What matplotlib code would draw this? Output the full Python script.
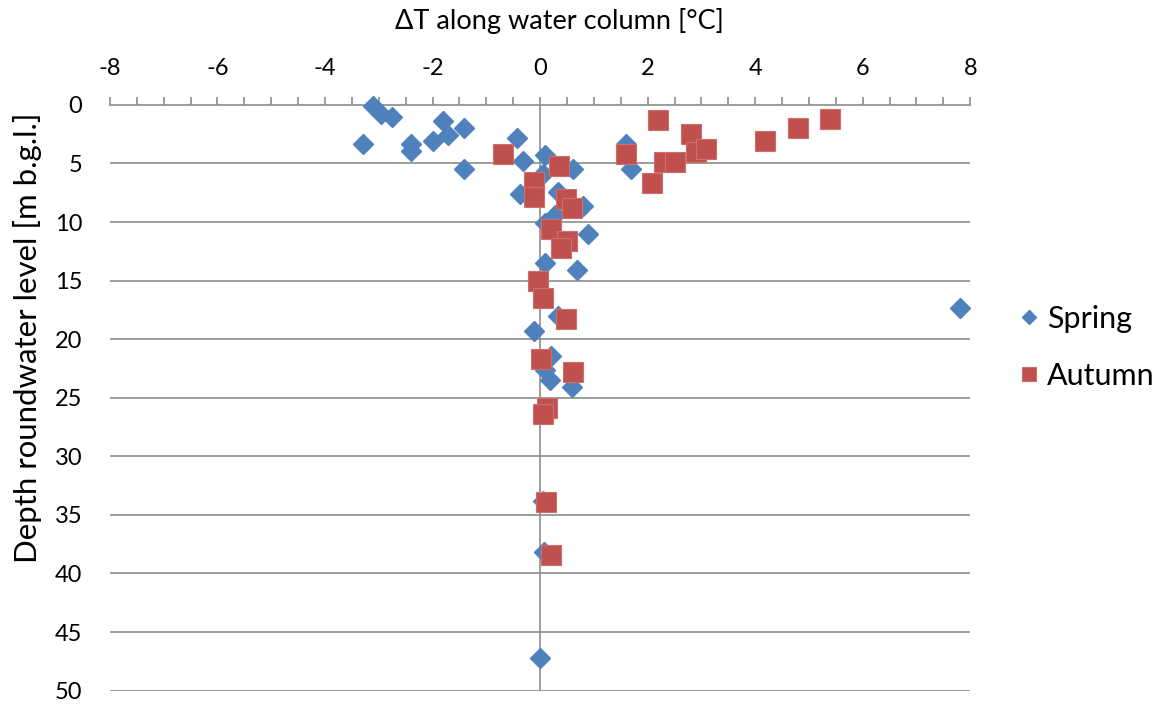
import matplotlib
matplotlib.use("Agg")
import matplotlib.pyplot as plt
import numpy as np

plt.rcParams['font.family'] = ['Lato', 'DejaVu Sans']
plt.rcParams['axes.unicode_minus'] = False

# Spring campaign: temperature difference [°C] and depth to groundwater [m]
spring_dt = [-3.1, -2.95, -2.75, -3.3, -2.4, -2.4, -2.0, -1.8, -1.72, -1.42,
             -1.42, -0.42, -0.31, 0.09, 0.62, 1.6, 1.7, 0.05, -0.37, 0.34,
             0.8, 0.28, 0.09, 0.89, 0.09, 0.68, 0.34, -0.12, 7.8, 0.2,
             0.09, 0.18, 0.6, 0.05, 0.08, 0.0]
spring_depth = [0.1, 0.8, 1.05, 3.3, 3.3, 3.9, 3.05, 1.35, 2.6, 2.0,
                5.5, 2.85, 4.75, 4.3, 5.5, 3.3, 5.45, 5.9, 7.6, 7.4,
                8.6, 9.4, 10.1, 11.0, 13.5, 14.1, 18.0, 19.3, 17.3, 21.4,
                22.6, 23.5, 24.1, 33.8, 38.2, 47.2]

# Autumn campaign
autumn_dt = [-0.69, 0.35, -0.11, -0.11, 0.49, 0.6, 0.2, 0.5, 0.39, -0.03,
             0.05, 0.49, 0.01, 0.62, 0.12, 0.05, 0.11, 0.2, 2.2, 2.8,
             2.9, 3.08, 2.3, 2.5, 1.6, 2.08, 4.18, 4.79, 5.39]
autumn_depth = [4.2, 5.2, 6.6, 7.85, 8.0, 8.8, 10.6, 11.6, 12.2, 15.05,
                16.5, 18.3, 21.7, 22.8, 25.9, 26.4, 33.9, 38.4, 1.25, 2.45,
                4.0, 3.75, 4.9, 4.9, 4.15, 6.65, 3.05, 2.0, 1.2]

blue = '#4F81BD'
red = '#C0504D'
grey = '#8C8C8C'

fig = plt.figure(figsize=(11.69, 7.04), dpi=100)
ax = fig.add_axes([0.094, 0.019, 0.736, 0.832])

ax.set_xlim(-8, 8)
ax.set_ylim(50, 0)

# horizontal gridlines every 5 m, vertical axis line at dT = 0
for yv in np.arange(5, 51, 5):
    ax.axhline(yv, color=grey, lw=1.2, zorder=1)
ax.axvline(0, color=grey, lw=1.2, zorder=1)

ax.plot(spring_dt, spring_depth, linestyle='none', marker='D', markersize=10,
        color=blue, markeredgecolor=blue, label='Spring', zorder=3, clip_on=False)
ax.plot(autumn_dt, autumn_depth, linestyle='none', marker='s', markersize=14,
        color=red, markeredgecolor='#CD6F6C', markeredgewidth=0.8,
        label='Autumn', zorder=4, clip_on=False)

for side in ['left', 'right', 'bottom']:
    ax.spines[side].set_visible(False)
ax.spines['top'].set_color(grey)
ax.spines['top'].set_linewidth(1.2)

ax.xaxis.tick_top()
ax.xaxis.set_label_position('top')
ax.set_xticks(np.arange(-8, 9, 2))
ax.set_xticks(np.arange(-8, 8.1, 0.5), minor=True)
ax.tick_params(axis='x', which='both', direction='out', length=6, width=1.2,
               color=grey, labelsize=17, pad=13)
ax.set_yticks(np.arange(0, 51, 5))
ax.tick_params(axis='y', length=0, labelsize=17, pad=20)

ax.set_xlabel('ΔT along water column [°C]', fontsize=19.5)
ax.xaxis.set_label_coords(0.523, 1.130)
# y title placed directly in figure coordinates
fig.text(0.0235, 0.52, 'Depth roundwater level [m b.g.l.]', fontsize=22.4,
         rotation=90, ha='center', va='center')

leg = ax.legend(loc='center left', bbox_to_anchor=(1.034, 0.586), frameon=False,
                fontsize=22, handletextpad=0.05, labelspacing=0.95,
                handlelength=1.1, markerscale=0.7, borderaxespad=0)

fig.savefig('out.png', dpi=100)
